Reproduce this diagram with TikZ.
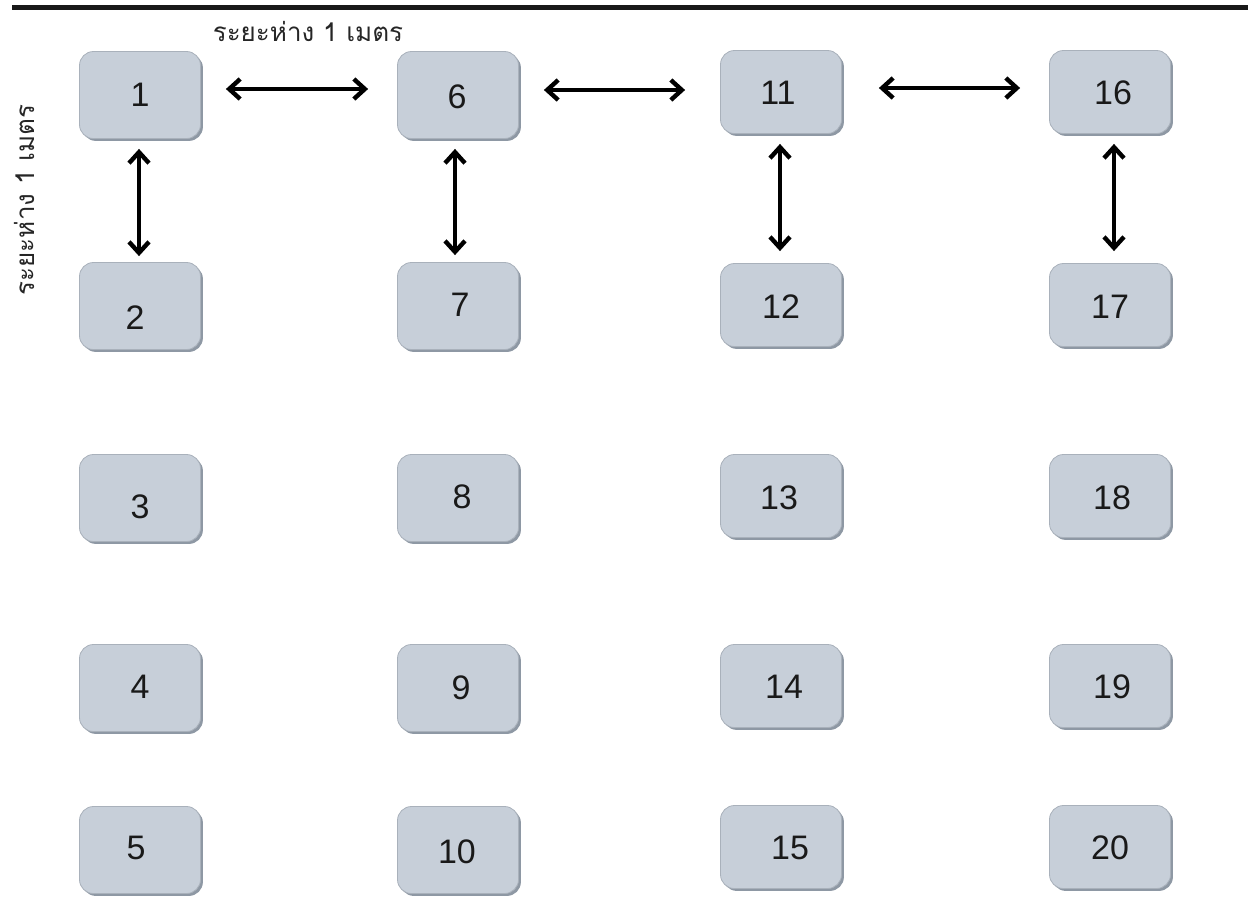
\documentclass[tikz,border=0pt]{standalone}
\usepackage{fontspec}
\setmainfont{Liberation Sans}
\newfontfamily\thaifont[Script=Thai]{Loma}
\usetikzlibrary{arrows.meta,shadows}
\definecolor{boxfill}{HTML}{C7CFD9}
\definecolor{boxedge}{HTML}{A9B1BB}
\definecolor{boxshadow}{HTML}{8E98A4}
\tikzset{
  seat/.style={draw=boxedge, line width=0.4pt, fill=boxfill, rounded corners=7pt,
    minimum width=60.5pt, minimum height=43.5pt, inner sep=0pt,
    drop shadow={shadow xshift=1.2pt, shadow yshift=-1.2pt, fill=boxshadow, opacity=1}},
  num/.style={font=\fontsize{17pt}{20pt}\selectfont, text=black!90, inner sep=0pt},
  gap/.style={line width=2pt, line cap=round, line join=round,
    {Straight Barb[length=5.5pt,width=10pt,line width=2.2pt]}-{Straight Barb[length=5.5pt,width=10pt,line width=2.2pt]}},
  thai/.style={font=\thaifont\fontsize{13pt}{15pt}\selectfont, text=black!85, inner sep=0pt}
}
\begin{document}
\begin{tikzpicture}[x=0.5pt,y=-0.5pt]
\useasboundingbox (0,0) rectangle (1248,912);
\fill[white] (0,0) rectangle (1248,912);
% top rule
\coordinate (ruleL) at (12,7);
\coordinate (ruleR) at (1248,7);
\draw[line width=2.5pt, black!90] (ruleL) -- (ruleR);
% boxes
\foreach \n/\x/\y in {1/140/95,2/140/306,3/140/498,4/140/688,5/140/850,
                      6/458/95,7/458/306,8/458/498,9/458/688,10/458/850}{
  \node[seat] (b\n) at (\x,\y) {};
}
\foreach \n/\x/\y in {11/781/92,12/781/305,13/781/496,14/781/686,15/781/847,
                      16/1110/92,17/1110/305,18/1110/496,19/1110/686,20/1110/847}{
  \node[seat, minimum height=41.5pt] (b\n) at (\x,\y) {};
}
% numbers
\foreach \n/\x/\y in {1/140/95,2/135/318,3/140/507,4/140/687,5/136/848,
                      6/457/97,7/460/305,8/462/497,9/461/688,10/457/852,
                      11/778/93,12/781/307,13/779/498,14/784/687,15/790/848,
                      16/1113/93,17/1110/307,18/1112/498,19/1112/687,20/1110/848}{
  \node[num] (t\n) at (\x,\y) {\n};
}
% distance arrows
\draw[gap] ([xshift=12.5pt,yshift=3pt]b1.east) -- ([xshift=-14.5pt,yshift=3pt]b6.west);
\draw[gap] ([xshift=12.5pt,yshift=2.5pt]b6.east) -- ([xshift=-17.5pt,yshift=1pt]b11.west);
\draw[gap] ([xshift=18.5pt,yshift=2pt]b11.east) -- ([xshift=-14.5pt,yshift=2pt]b16.west);
\draw[gap] ([xshift=-0.5pt,yshift=-5pt]b1.south) -- ([xshift=-0.5pt,yshift=3pt]b2.north);
\draw[gap] ([xshift=-1.5pt,yshift=-5pt]b6.south) -- ([xshift=-1.5pt,yshift=3.5pt]b7.north);
\draw[gap] ([xshift=-0.5pt,yshift=-5pt]b11.south) -- ([xshift=-0.5pt,yshift=6pt]b12.north);
\draw[gap] ([xshift=2pt,yshift=-5pt]b16.south) -- ([xshift=2pt,yshift=6pt]b17.north);
% labels
\node[thai] (lblH) at (308,31) {ระยะห่าง 1 เมตร};
\node[thai, rotate=90] (lblV) at (25,200) {ระยะห่าง 1 เมตร};
\end{tikzpicture}
\end{document}
